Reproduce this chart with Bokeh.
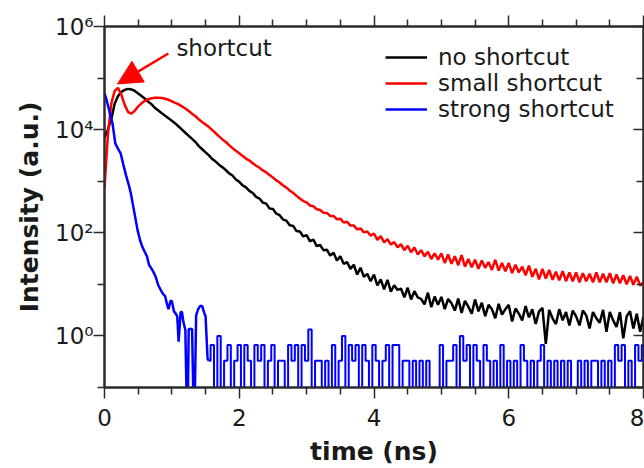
from bokeh.plotting import figure
from bokeh.models import (Range1d, FixedTicker, LinearAxis, LogAxis, Label, Arrow, NormalHead,
                          CustomJSTickFormatter)
from bokeh.embed import file_html
from bokeh.resources import INLINE

# ---------------- data ----------------
t_grid = [
    0.00, 0.05, 0.10, 0.15, 0.20, 0.25, 0.30, 0.35, 0.40, 0.45,
    0.50, 0.55, 0.60, 0.65, 0.70, 0.75, 0.80, 0.85, 0.90, 0.95,
    1.00, 1.05, 1.10, 1.15, 1.20, 1.25, 1.30, 1.35, 1.40, 1.45,
    1.50, 1.55, 1.60, 1.65, 1.70, 1.75, 1.80, 1.85, 1.90, 1.95,
    2.00, 2.05, 2.10, 2.15, 2.20, 2.25, 2.30, 2.35, 2.40, 2.45,
    2.50, 2.55, 2.60, 2.65, 2.70, 2.75, 2.80, 2.85, 2.90, 2.95,
    3.00, 3.05, 3.10, 3.15, 3.20, 3.25, 3.30, 3.35, 3.40, 3.45,
    3.50, 3.55, 3.60, 3.65, 3.70, 3.75, 3.80, 3.85, 3.90, 3.95,
    4.00, 4.05, 4.10, 4.15, 4.20, 4.25, 4.30, 4.35, 4.40, 4.45,
    4.50, 4.55, 4.60, 4.65, 4.70, 4.75, 4.80, 4.85, 4.90, 4.95,
    5.00, 5.05, 5.10, 5.15, 5.20, 5.25, 5.30, 5.35, 5.40, 5.45,
    5.50, 5.55, 5.60, 5.65, 5.70, 5.75, 5.80, 5.85, 5.90, 5.95,
    6.00, 6.05, 6.10, 6.15, 6.20, 6.25, 6.30, 6.35, 6.40, 6.45,
    6.50, 6.55, 6.60, 6.65, 6.70, 6.75, 6.80, 6.85, 6.90, 6.95,
    7.00, 7.05, 7.10, 7.15, 7.20, 7.25, 7.30, 7.35, 7.40, 7.45,
    7.50, 7.55, 7.60, 7.65, 7.70, 7.75, 7.80, 7.85, 7.90, 7.95,
    8.00,
]

no_shortcut = [
    7100, 10000, 15800, 31600, 44700, 53700, 58900, 61700, 60300, 56200,
    50100, 44700, 39800, 34700, 30900, 26300, 23400, 20900, 18600, 16600,
    14800, 13200, 11500, 10000, 8710, 7590, 6610, 5750, 4790, 4170,
    3630, 3160, 2690, 2400, 2090, 1860, 1650, 1420, 1290, 1080,
    975, 830, 760, 648, 590, 498, 462, 385, 368, 296,
    290, 235, 220, 180, 172, 140, 136, 108, 106, 85,
    90, 68, 74, 55, 58, 46, 47, 36, 41, 29,
    35, 25, 27, 20, 24, 15.5, 21, 14, 16, 11.5,
    15.5, 9.5, 12.5, 8.0, 12.2, 7.2, 9.6, 7.8, 8.3, 5.6,
    8.6, 5.1, 7.4, 5.6, 5.2, 4.1, 6.9, 3.6, 5.8, 4.0,
    5.7, 3.3, 5.2, 4.3, 3.1, 5.3, 2.8, 4.8, 3.7, 2.7,
    5.1, 3.0, 4.4, 2.4, 4.0, 3.3, 2.2, 4.2, 2.6, 3.3,
    4.0, 1.9, 3.4, 2.7, 2.0, 3.8, 2.3, 3.3, 1.7, 3.0,
    3.5, 0.7, 3.2, 2.2, 1.7, 3.3, 2.0, 2.9, 1.6, 3.1,
    2.4, 1.6, 3.1, 2.5, 1.4, 2.9, 2.2, 1.8, 3.2, 1.2,
    2.9, 2.0, 1.5, 2.9, 0.9, 2.4, 3.0, 1.4, 2.7, 1.2,
    2.4,
]

small_shortcut = [
    740, 7900, 31600, 56200, 64600, 47900, 30200, 21900, 20400, 23400,
    28200, 32400, 36300, 38900, 40700, 41700, 41700, 41200, 39800, 38000,
    35500, 33100, 30900, 28200, 25700, 22900, 20400, 18200, 15800, 14100,
    12600, 11200, 9770, 8510, 7410, 6460, 5750, 5010, 4370, 3890,
    3470, 3090, 2750, 2510, 2240, 2000, 1820, 1620, 1480, 1320,
    1180, 1040, 945, 826, 752, 655, 596, 520, 462, 412,
    390, 338, 326, 287, 277, 244, 243, 212, 212, 183,
    188, 158, 164, 138, 139, 116, 122, 102, 106, 88,
    97, 73, 86, 65, 75, 59, 66, 52, 60, 46,
    56, 42, 52, 38, 46, 35, 43, 31, 40, 30,
    40, 26, 38, 25, 35, 23.5, 37, 22, 31, 21.5,
    30, 20, 29, 21, 27, 19, 30, 18.5, 26, 18,
    26, 16.5, 24, 17, 22, 15, 23, 14, 20, 12.5,
    20, 13, 19, 12.3, 17.5, 12, 18, 11.5, 17, 11.5,
    17, 11, 16.5, 11.5, 16, 11, 17, 11, 16, 11,
    16.5, 10.5, 15.5, 10.5, 15, 10, 14.5, 9.8, 14, 9.5,
    11,
]

strong_t = [
    0.00, 0.03, 0.06, 0.09, 0.12, 0.16, 0.20, 0.24, 0.28, 0.32,
    0.36, 0.39, 0.44, 0.49, 0.53, 0.56, 0.60, 0.63, 0.66, 0.68,
    0.72, 0.76, 0.80, 0.83, 0.87, 0.90, 0.93, 0.95, 0.98, 1.00,
    1.03, 1.05, 1.08, 1.10, 1.13, 1.15, 1.17, 1.20, 1.23, 1.25,
    1.27, 1.30, 1.33, 1.36, 1.39, 1.42, 1.45, 1.48, 1.50, 1.53,
    1.55,
]
strong_v = [
    51000, 38000, 26500, 18500, 13000, 5400, 4300, 3450, 2100, 1300,
    850, 590, 260, 114, 70, 54, 42, 35, 24, 22,
    18, 14, 9.5, 8, 6.5, 5.9, 4.0, 3.3, 4.8, 4.7,
    3.0, 2.8, 2.4, 0.77, 2.9, 2.9, 1.9, 1.3, 0, 1.36,
    1.36, 1.36, 0, 2.5, 3.3, 3.8, 3.8, 2.8, 2.4, 0.36,
    0.33,
]
strong_tail_t = t_grid[31:]
strong_tail_v = [
    0.33, 0.67, 0, 1.0, 0, 0.33, 0.67, 0, 0.33, 0.67,
    0, 0.67, 0.33, 0, 0.67, 0.33, 0.67, 0, 0.33, 0.67,
    0, 0.33, 0.33, 0, 0.67, 0.33, 0.67, 0, 0.67, 0.33,
    1.33, 0, 0.33, 0.33, 0, 0.33, 0, 0.67, 0, 0.33,
    1.0, 0, 0.67, 0.33, 0.67, 0, 0.67, 0.33, 0, 0.67,
    0.33, 0, 0.33, 0.67, 0, 0.67, 0.67, 0, 0.33, 0.33,
    0, 0.33, 0, 0.33, 0, 0.33, 0, 0, 0, 0.67,
    0, 0.33, 0.33, 0.67, 0, 1.0, 0.33, 0.67, 0, 0.67,
    0.33, 0, 0.67, 0.33, 0, 0.33, 0, 0.67, 0, 0.33,
    0, 0.33, 0, 0.67, 0.33, 0, 0.33, 0, 0.33, 0.67,
    0, 0.33, 0, 0.33, 0, 0.33, 0, 0.33, 0, 0,
    0.33, 0, 0.33, 0, 0.33, 0.33, 0, 0.33, 0, 0.33,
    0, 0.67, 0.33, 0.67, 0, 0.33, 0, 0.67, 0.33, 0.67,
]

series_names = ["no shortcut", "small shortcut", "strong shortcut"]
series_colors = ["#000000", "#ff0000", "#0000ff"]

x_major = [0, 2, 4, 6, 8]
x_minor = [0.5, 1, 1.5, 2.5, 3, 3.5, 4.5, 5, 5.5, 6.5, 7, 7.5]
y_major = [1, 100, 10000, 1000000]
y_minor = [0.1, 10, 1000, 100000]
y_labels = ["10\u2070", "10\u00b2", "10\u2074", "10\u2076"]

assert len(t_grid) == len(no_shortcut) == len(small_shortcut) == 161
assert len(strong_t) == len(strong_v)
assert len(strong_tail_t) == len(strong_tail_v)

FLOOR = 0.01  # zero counts are drawn below the axis, as on a log plot


def floored(vals):
    return [v if v > 0 else FLOOR for v in vals]


FONT = "DejaVu Sans"
AX = "#2b2b2b"
TXT = "#1a1a1a"

p = figure(width=644, height=468, output_backend="svg", toolbar_location=None,
           x_range=Range1d(0, 8), y_range=Range1d(0.1, 1e6), y_axis_type="log",
           min_border_left=104, min_border_right=1, min_border_top=26, min_border_bottom=80,
           background_fill_color="white", border_fill_color="white")
p.grid.visible = False
p.outline_line_color = AX
p.outline_line_width = 2

xt = FixedTicker(ticks=x_major, minor_ticks=x_minor)
yt = FixedTicker(ticks=y_major, minor_ticks=y_minor)

xa = p.xaxis[0]
ya = p.yaxis[0]
for ax in (xa, ya):
    ax.axis_line_color = AX
    ax.axis_line_width = 2
    ax.major_tick_line_color = AX
    ax.minor_tick_line_color = AX
    ax.major_tick_line_width = 1.5
    ax.minor_tick_line_width = 1.5
    ax.major_tick_out = 11
    ax.major_tick_in = 0
    ax.minor_tick_out = 7
    ax.minor_tick_in = 0
    ax.major_label_text_font = FONT
    ax.major_label_text_font_size = "23px"
    ax.major_label_text_color = TXT
    ax.axis_label_text_font = FONT
    ax.axis_label_text_font_size = "25px"
    ax.axis_label_text_font_style = "bold"
    ax.axis_label_text_color = TXT

xa.ticker = xt
xa.axis_label = "time (ns)"
xa.major_label_standoff = 10
xa.axis_label_standoff = 8

ya.ticker = yt
ya.axis_label = "Intensity (a.u.)"
ya.major_label_overrides = {v: s for v, s in zip(y_major, y_labels)}
ya.major_label_standoff = 0
ya.axis_label_standoff = 8

blank = CustomJSTickFormatter(code="return ''")
top = LinearAxis(ticker=xt, formatter=blank, major_label_standoff=0,
                 axis_line_color=AX, axis_line_width=2,
                 major_tick_line_color=AX, minor_tick_line_color=AX,
                 major_tick_line_width=1.5, minor_tick_line_width=1.5,
                 major_tick_out=11, major_tick_in=0, minor_tick_out=7, minor_tick_in=0)
p.add_layout(top, "above")

right = LogAxis(ticker=yt, formatter=CustomJSTickFormatter(code="return ''"),
                major_label_standoff=0,
                axis_line_color=AX, axis_line_width=2,
                major_tick_line_color=AX, minor_tick_line_color=AX,
                major_tick_line_width=1.5, minor_tick_line_width=1.5,
                major_tick_out=0, major_tick_in=10, minor_tick_out=0, minor_tick_in=7)
p.add_layout(right, "right")

# curves
p.line(t_grid, no_shortcut, line_color=series_colors[0], line_width=2.5,
       legend_label=series_names[0])
p.line(t_grid, small_shortcut, line_color=series_colors[1], line_width=2.5,
       legend_label=series_names[1])
p.line(strong_t, floored(strong_v), line_color=series_colors[2], line_width=2.5,
       legend_label=series_names[2])
p.step(strong_tail_t, floored(strong_tail_v), mode="center",
       line_color=series_colors[2], line_width=2)

# legend
lg = p.legend[0]
lg.location = (281, 265)
lg.border_line_color = None
lg.background_fill_alpha = 0
lg.label_text_font = FONT
lg.label_text_font_size = "23px"
lg.label_text_color = TXT
lg.glyph_width = 42
lg.glyph_height = 26
lg.label_height = 26
lg.label_standoff = 11
lg.spacing = 0
lg.padding = 0
lg.margin = 0

# annotation
p.add_layout(Label(x=1.067, y=2.12e5, text="shortcut", text_font=FONT,
                   text_font_size="23px", text_color=TXT))
p.add_layout(Arrow(end=NormalHead(size=24, fill_color="#ff0000", line_color="#ff0000"),
                   x_start=0.948, y_start=3.0e5, x_end=0.193, y_end=7.7e4,
                   line_color="#ff0000", line_width=2.5))

open("out.html", "w").write(file_html(p, INLINE))
